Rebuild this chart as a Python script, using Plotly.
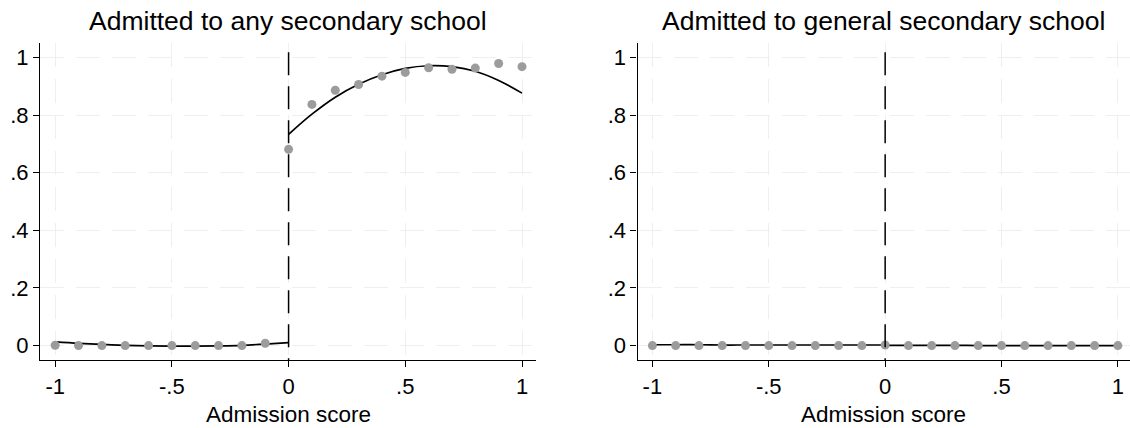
import plotly.graph_objects as go

# Bin midpoints of the running variable
x_below = [-1.0, -0.9, -0.8, -0.7, -0.6, -0.5, -0.4, -0.3, -0.2, -0.1]
x_above = [0.0, 0.1, 0.2, 0.3, 0.4, 0.5, 0.6, 0.7, 0.8, 0.9, 1.0]

# Panel 1: admitted to any secondary school (binned means)
any_below = [0.001, 0.0, 0.0, 0.0, 0.0, 0.0, 0.0, 0.0, 0.0, 0.008]
any_above = [0.681, 0.837, 0.886, 0.906, 0.935, 0.948, 0.964, 0.959, 0.963, 0.979, 0.968]
# Panel 1: fitted polynomial on each side of the cutoff
fit_x_below = [-1.0, -0.9, -0.8, -0.7, -0.6, -0.5, -0.4, -0.3, -0.2, -0.1, 0.0]
fit_any_below = [0.013, 0.008, 0.004, 0.001, -0.001, -0.002, -0.002, -0.001, 0.001, 0.005, 0.010]
fit_x_above = [0.0, 0.1, 0.2, 0.3, 0.4, 0.5, 0.6, 0.7, 0.8, 0.9, 1.0]
fit_any_above = [0.733, 0.803, 0.862, 0.907, 0.940, 0.962, 0.971, 0.968, 0.952, 0.920, 0.876]

# Panel 2: admitted to general secondary school
gen_below = [0.0, 0.0, 0.0, 0.0, 0.0, 0.0, 0.0, 0.0, 0.0, 0.0]
gen_above = [0.002, 0.0, 0.0, 0.0, 0.0, 0.0, 0.0, 0.0, 0.0, 0.0, 0.0]
fit_gen_below = [0.003, 0.003, 0.003, 0.002, 0.002, 0.002, 0.002, 0.002, 0.002, 0.002, 0.002]
fit_gen_above = [0.001, 0.001, 0.001, 0.001, 0.0, 0.0, 0.0, 0.0, 0.0, 0.0, 0.0]

titles = ["Admitted to any secondary school", "Admitted to general secondary school"]
x_title = "Admission score"
x_tickvals = [-1, -0.5, 0, 0.5, 1]
x_ticktext = ["-1", "-.5", "0", ".5", "1"]
y_tickvals = [0, 0.2, 0.4, 0.6, 0.8, 1]
y_ticktext = ["0", ".2", ".4", ".6", ".8", "1"]

FONT = "Arial, Liberation Sans, sans-serif"
DOT = "#9c9c9c"
GRID = "#efefef"
W, H = 1130, 428

panels = [
    dict(bins=(any_below, any_above), fits=(fit_any_below, fit_any_above),
         xdom=[40 / W, 536 / W], xr=[-1.065, 1.06]),
    dict(bins=(gen_below, gen_above), fits=(fit_gen_below, fit_gen_above),
         xdom=[637.5 / W, 1.0], xr=[-1.064, 1.052]),
]
ydom = [1 - 360 / H, 1 - 43 / H]

fig = go.Figure()
layout = dict(
    width=W, height=H, margin=dict(l=0, r=0, t=0, b=0),
    paper_bgcolor="white", plot_bgcolor="white", showlegend=False,
    font=dict(family=FONT, color="black"),
)
annotations = []
shapes = []

for i, p in enumerate(panels):
    n = "" if i == 0 else str(i + 1)
    xa, ya = "x" + n, "y" + n
    for xs, ys in ((fit_x_below, p["fits"][0]), (fit_x_above, p["fits"][1])):
        fig.add_trace(go.Scatter(x=xs, y=ys, mode="lines", xaxis=xa, yaxis=ya,
                                 line=dict(color="black", width=1.7, shape="spline"),
                                 hoverinfo="skip"))
    for xs, ys in ((x_below, p["bins"][0]), (x_above, p["bins"][1])):
        fig.add_trace(go.Scatter(x=xs, y=ys, mode="markers", xaxis=xa, yaxis=ya,
                                 marker=dict(color=DOT, size=9, line=dict(width=0)),
                                 cliponaxis=False))
    common = dict(showline=True, linecolor="black", linewidth=1.2,
                  ticks="outside", ticklen=6, tickwidth=1.2, tickcolor="black",
                  showgrid=True, gridcolor=GRID, gridwidth=1.4, griddash="24px,12px",
                  zeroline=False, automargin=False,
                  tickfont=dict(size=22, family=FONT, color="black"))
    layout["xaxis" + n] = dict(common, domain=p["xdom"], range=p["xr"], anchor=ya,
                               tickvals=x_tickvals, ticktext=x_ticktext)
    layout["yaxis" + n] = dict(common, domain=ydom, range=[-0.05, 1.05], anchor=xa,
                               tickvals=y_tickvals, ticktext=y_ticktext)
    # cutoff line at zero
    shapes.append(dict(type="line", xref=xa, yref=ya, x0=0, x1=0, y0=1.018, y1=-0.05,
                       line=dict(color="black", width=1.5, dash="23px,11px"), layer="above"))
    annotations.append(dict(text=titles[i], xref=xa + " domain", yref="paper",
                            x=0.5, y=1 - 21 / H, showarrow=False, xanchor="center",
                            yanchor="middle", font=dict(size=26.5, family=FONT, color="black")))
    annotations.append(dict(text=x_title, xref=xa + " domain", yref="paper",
                            x=0.5, y=1 - 414 / H, showarrow=False, xanchor="center",
                            yanchor="middle", font=dict(size=22.5, family=FONT, color="black")))

layout["annotations"] = annotations
layout["shapes"] = shapes
fig.update_layout(**layout)
fig.write_html("out.html")
